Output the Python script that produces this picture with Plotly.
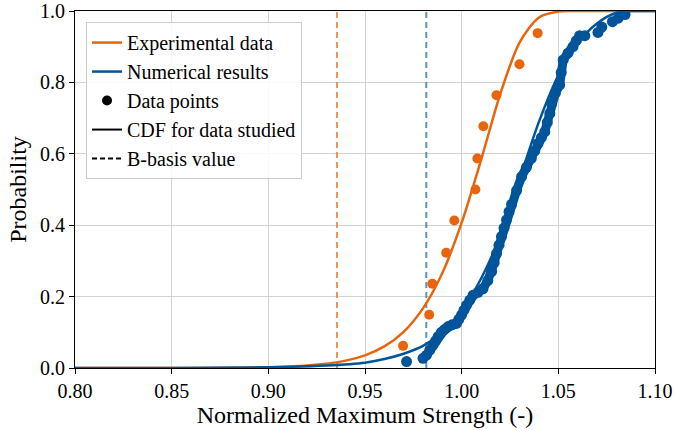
import plotly.graph_objects as go

# Experimental data points (median ranks)
exp_x = [0.9697, 0.9832, 0.9848, 0.9920, 0.9962, 1.0071, 1.0081, 1.0112, 1.0180, 1.0299, 1.0393]
exp_y = [0.062, 0.149, 0.236, 0.323, 0.413, 0.500, 0.587, 0.677, 0.764, 0.851, 0.938]

# Experimental CDF
exp_cdf_x = [0.80, 0.85, 0.88, 0.90, 0.92, 0.94, 0.95, 0.96, 0.97, 0.98, 0.99, 1.00, 1.01, 1.02, 1.03, 1.04, 1.05, 1.06, 1.10]
exp_cdf_y = [0.0, 0.0001, 0.0007, 0.0022, 0.0068, 0.0207, 0.0355, 0.0604, 0.1014, 0.167, 0.266, 0.407, 0.582, 0.768, 0.912, 0.982, 0.9986, 1.0, 1.0]

# Numerical CDF
num_cdf_x = [0.80, 0.85, 0.90, 0.93, 0.95, 0.96, 0.97, 0.98, 0.99, 1.00, 1.01, 1.02, 1.03, 1.04, 1.05, 1.06, 1.07, 1.08, 1.09, 1.10]
num_cdf_y = [0.0, 0.0003, 0.002, 0.007, 0.015, 0.025, 0.040, 0.062, 0.10, 0.16, 0.25, 0.37, 0.53, 0.69, 0.82, 0.91, 0.965, 0.995, 1.0, 1.0]

# Numerical result points (isolated)
num_iso_x = [0.9715, 0.9800, 1.0705, 1.0725, 1.0780, 1.0810, 1.0845]
num_iso_y = [0.018, 0.027, 0.940, 0.955, 0.970, 0.980, 0.990]

# Numerical result points (dense band)
num_x = [0.9818, 0.9835, 0.9852, 0.9865, 0.9878, 0.9895, 0.9912, 0.9930, 0.9950, 0.9973, 0.9985,
         0.9999, 1.0012, 1.0025, 1.0042, 1.0059, 1.0085, 1.0110, 1.0135, 1.0155, 1.0168, 1.0180,
         1.0193, 1.0206, 1.0219, 1.0232, 1.0245, 1.0258, 1.0284, 1.0310, 1.0335, 1.0360, 1.0378,
         1.0395, 1.0412, 1.0430, 1.0443, 1.0456, 1.0465, 1.0485, 1.0507, 1.0515, 1.0525, 1.0550,
         1.0576, 1.0593, 1.0610, 1.0637]
num_y = [0.036, 0.050, 0.064, 0.076, 0.088, 0.100, 0.108, 0.116, 0.121, 0.125, 0.136,
         0.148, 0.162, 0.176, 0.190, 0.204, 0.212, 0.222, 0.245, 0.270, 0.295, 0.320,
         0.344, 0.368, 0.392, 0.415, 0.438, 0.458, 0.497, 0.536, 0.562, 0.587, 0.608,
         0.629, 0.645, 0.662, 0.688, 0.713, 0.740, 0.770, 0.793, 0.828, 0.863, 0.882,
         0.900, 0.917, 0.931, 0.931]

# B-basis values
bbasis_exp = 0.9355
bbasis_num = 0.9817

ORANGE = "#e8650e"
BLUE = "#00549a"
ORANGE_D = "rgba(236,120,40,0.8)"
BLUE_D = "rgba(40,110,180,0.75)"
FONT = "Liberation Serif"

fig = go.Figure()

for xv, c in [(bbasis_exp, ORANGE_D), (bbasis_num, BLUE_D)]:
    fig.add_trace(go.Scatter(x=[xv, xv], y=[0, 1], mode="lines",
                             line=dict(color=c, width=2, dash="6px,4px"), showlegend=False))

fig.add_trace(go.Scatter(x=exp_cdf_x, y=exp_cdf_y, mode="lines", line=dict(color=ORANGE, width=2.5, shape="spline", smoothing=0.8),
                         showlegend=False))
fig.add_trace(go.Scatter(x=num_cdf_x, y=num_cdf_y, mode="lines", line=dict(color=BLUE, width=2.5, shape="spline", smoothing=0.8),
                         showlegend=False))

fig.add_trace(go.Scatter(x=exp_x, y=exp_y, mode="markers", marker=dict(color=ORANGE, size=10), showlegend=False))
fig.add_trace(go.Scatter(x=num_x, y=num_y, mode="lines+markers", line=dict(color=BLUE, width=9),
                         marker=dict(color=BLUE, size=11), showlegend=False))
fig.add_trace(go.Scatter(x=num_iso_x, y=num_iso_y, mode="markers", marker=dict(color=BLUE, size=11), showlegend=False))

fig.add_trace(go.Scatter(x=[None], y=[None], mode="lines", line=dict(color=ORANGE, width=2.5), name="Experimental data"))
fig.add_trace(go.Scatter(x=[None], y=[None], mode="lines", line=dict(color=BLUE, width=2.5), name="Numerical results"))
fig.add_trace(go.Scatter(x=[None], y=[None], mode="markers", marker=dict(color="#000000", size=10), name="Data points"))
fig.add_trace(go.Scatter(x=[None], y=[None], mode="lines", line=dict(color="#000000", width=2), name="CDF for data studied"))
fig.add_trace(go.Scatter(x=[None], y=[None], mode="lines", line=dict(color="#000000", width=2, dash="5px,3px"), name="B-basis value"))

fig.update_layout(
    width=676, height=430,
    margin=dict(l=75, r=21, t=11, b=62),
    plot_bgcolor="white", paper_bgcolor="white",
    font=dict(family=FONT, size=20, color="#000000"),
    showlegend=True,
    legend=dict(x=0.019, y=0.969, xanchor="left", yanchor="top",
                bgcolor="rgba(255,255,255,0.85)", bordercolor="#cccccc", borderwidth=1),
)
fig.update_xaxes(range=[0.8, 1.1], tickvals=[0.80, 0.85, 0.90, 0.95, 1.00, 1.05, 1.10], tickformat=".2f",
                 title=dict(text="Normalized Maximum Strength (-)", standoff=4),
                 showline=True, linecolor="black", linewidth=1, mirror=True,
                 ticks="outside", ticklen=5, tickcolor="black", automargin=False,
                 showgrid=True, gridcolor="#d3d3d3", gridwidth=1, zeroline=False)
fig.update_yaxes(range=[0, 1], tickvals=[0, 0.2, 0.4, 0.6, 0.8, 1.0], tickformat=".1f",
                 title=dict(text="Probability", standoff=6),
                 showline=True, linecolor="black", linewidth=1, mirror=True,
                 ticks="outside", ticklen=5, tickcolor="black", automargin=False,
                 showgrid=True, gridcolor="#d3d3d3", gridwidth=1, zeroline=False)

fig.write_html("out.html")
